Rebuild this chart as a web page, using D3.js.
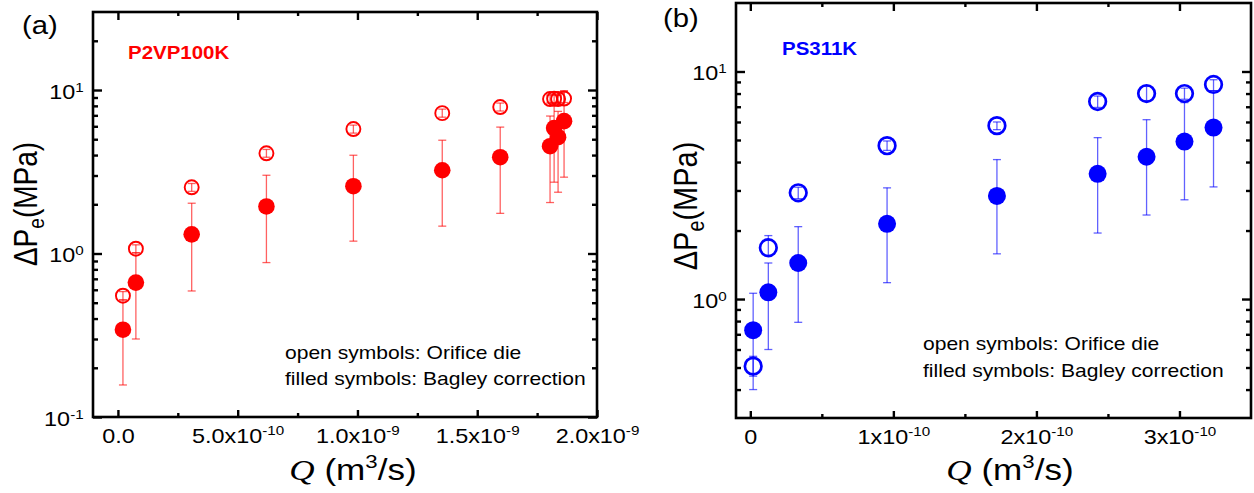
<!DOCTYPE html>
<html>
<head>
<meta charset="utf-8">
<script src="https://cdn.jsdelivr.net/npm/d3@7"></script>
<style>
  body { margin: 0; background: #fff; }
  svg { display: block; }
</style>
</head>
<body>
<svg id="fig" width="1254" height="493"></svg>
<script>
// ---------- (a) P2VP100K ----------
const flowP2VP      = [2.1e-11, 7.5e-11, 3.08e-10, 6.2e-10, 9.83e-10, 1.354e-9, 1.596e-9, 1.804e-9, 1.821e-9, 1.8375e-9, 1.8625e-9];
const orificeP2VP   = [0.552, 1.07, 2.54, 4.10, 5.77, 7.22, 7.87, 8.81, 8.85, 8.81, 8.87];
const orificeP2VPLo = [0.52, 1.01, 2.40, 3.88, 5.45, 6.82, 7.44, 8.32, 8.36, 8.32, 8.38];
const orificeP2VPHi = [0.585, 1.13, 2.68, 4.33, 6.10, 7.64, 8.32, 9.32, 9.36, 9.32, 9.86];
const bagleyP2VP    = [0.342, 0.664, 1.31, 1.94, 2.58, 3.23, 3.88, 4.53, 5.85, 5.15, 6.45];
const bagleyP2VPLo  = [0.157, 0.30, 0.59, 0.88, 1.19, 1.47, 1.76, 2.05, 2.73, 2.37, 2.93];
const bagleyP2VPHi  = [0.52, 1.01, 2.03, 3.01, 3.99, 4.93, 5.93, 6.93, 8.30, 7.40, 9.86];

const xTicksP2VP   = [0, 5e-10, 1e-9, 1.5e-9, 2e-9];
const xMantP2VP    = ["0.0", "5.0x10", "1.0x10", "1.5x10", "2.0x10"];
const xExpP2VP     = ["", "-10", "-9", "-9", "-9"];
const xMinorP2VP   = [2.5e-10, 7.5e-10, 1.25e-9, 1.75e-9];
const yTicksP2VP   = [0.1, 1, 10];
const yExpP2VP     = ["-1", "0", "1"];
const yMinorP2VP   = [0.2, 0.3, 0.4, 0.5, 0.6, 0.7, 0.8, 0.9, 2, 3, 4, 5, 6, 7, 8, 9, 20];

// ---------- (b) PS311K ----------
const flowPS      = [2e-12, 1.26e-11, 3.35e-11, 9.56e-11, 1.724e-10, 2.428e-10, 2.77e-10, 3.035e-10, 3.238e-10];
const orificePS   = [0.507, 1.68, 2.93, 4.72, 5.78, 7.38, 8.0, 8.0, 8.77];
const orificePSLo = [0.458, 1.55, 2.76, 4.50, 5.55, 6.95, 7.45, 7.55, 8.24];
const orificePSHi = [0.56, 1.90, 3.10, 4.95, 6.00, 7.80, 8.60, 8.45, 9.20];
const bagleyPS    = [0.73, 1.07, 1.44, 2.14, 2.84, 3.55, 4.22, 4.92, 5.67];
const bagleyPSLo  = [0.40, 0.60, 0.79, 1.18, 1.58, 1.95, 2.34, 2.73, 3.11];
const bagleyPSHi  = [1.06, 1.44, 2.08, 3.08, 4.10, 5.12, 6.14, 7.30, 8.24];

const xTicksPS   = [0, 1e-10, 2e-10, 3e-10];
const xMantPS    = ["0", "1x10", "2x10", "3x10"];
const xExpPS     = ["", "-10", "-10", "-10"];
const xMinorPS   = [5e-11, 1.5e-10, 2.5e-10];
const yTicksPS   = [1, 10];
const yExpPS     = ["0", "1"];
const yMinorPS   = [0.4, 0.5, 0.6, 0.7, 0.8, 0.9, 2, 3, 4, 5, 6, 7, 8, 9];

const SANS = '"Liberation Sans", Arial, sans-serif';
const SERIF = '"Liberation Serif", "Times New Roman", serif';
const SX = 1.17;   // text is set slightly wide

const svg = d3.select("#fig");

function drawPanel(o) {
  const g = svg.append("g");
  const x = d3.scaleLinear().domain(o.xDomain).range([o.left, o.right]);
  const y = d3.scaleLog().domain(o.yDomain).range([o.bottom, o.top]);

  // tick marks on all four sides, pointing inward
  const styleTicks = sel => {
    sel.select(".domain").remove();
    sel.selectAll("line").attr("stroke", "#000").attr("stroke-width", 2.4);
  };
  const noLab = () => "";
  const sides = [
    [d3.axisBottom, x, `translate(0,${o.bottom})`, o.xTicks, o.xMinor, 7, 4],
    [d3.axisTop,    x, `translate(0,${o.top})`,    o.xTicks, o.xMinor, 8, 4],
    [d3.axisLeft,   y, `translate(${o.left},0)`,   o.yTicks, o.yMinor, 9, 5],
    [d3.axisRight,  y, `translate(${o.right},0)`,  o.yTicks, o.yMinor, 9, 5]
  ];
  sides.forEach(([axis, sc, tr, major, minor, lenMaj, lenMin]) => {
    g.append("g").attr("transform", tr)
      .call(axis(sc).tickValues(major).tickSize(-lenMaj).tickFormat(noLab)).call(styleTicks);
    g.append("g").attr("transform", tr)
      .call(axis(sc).tickValues(minor).tickSize(-lenMin).tickFormat(noLab)).call(styleTicks);
  });

  // frame
  g.append("rect")
    .attr("x", o.left).attr("y", o.top)
    .attr("width", o.right - o.left).attr("height", o.bottom - o.top)
    .attr("fill", "none").attr("stroke", "#000").attr("stroke-width", 2.6);

  // x tick labels (mantissa + exponent)
  const xl = g.append("g").attr("transform", `translate(0,${o.bottom})`)
    .call(d3.axisBottom(x).tickValues(o.xTicks).tickSize(0).tickFormat((d, i) => o.xMant[i]));
  xl.select(".domain").remove();
  xl.selectAll(".tick text")
    .attr("dy", null).attr("y", 26)
    .attr("font-size", 20).attr("font-family", SANS).attr("fill", "#000")
    .attr("transform", `scale(${SX},1)`)
    .each(function (d, i) {
      if (o.xExp[i]) d3.select(this).append("tspan").attr("dy", -8).attr("font-size", 13).text(o.xExp[i]);
    });

  // y tick labels (powers of ten)
  const yl = g.append("g").attr("transform", `translate(${o.left},0)`)
    .call(d3.axisLeft(y).tickValues(o.yTicks).tickSize(0).tickPadding(8).tickFormat(() => "10"));
  yl.select(".domain").remove();
  yl.selectAll(".tick text")
    .attr("dy", "0.4em")
    .attr("font-size", 20).attr("font-family", SANS).attr("fill", "#000")
    .attr("transform", `scale(${SX},1)`)
    .each(function (d, i) {
      d3.select(this).append("tspan").attr("dy", -7).attr("font-size", 13).text(o.yExp[i]);
    });

  // data
  const rows = (q, v, lo, hi) => q.map((d, i) => ({ q: d, v: v[i], lo: lo[i], hi: hi[i] }));
  const filled = rows(o.q, o.bagley, o.bagleyLo, o.bagleyHi);
  const open = rows(o.q, o.orifice, o.orificeLo, o.orificeHi);

  const errs = g.append("g")
    .attr("stroke", o.color).attr("stroke-opacity", 0.62).attr("stroke-width", 1.3).attr("fill", "none");
  const cap = 4;
  [filled, open].forEach(set => {
    const eg = errs.append("g").selectAll("g").data(set).join("g");
    eg.append("line")
      .attr("x1", d => x(d.q)).attr("x2", d => x(d.q))
      .attr("y1", d => y(d.lo)).attr("y2", d => y(d.hi));
    eg.append("line")
      .attr("x1", d => x(d.q) - cap).attr("x2", d => x(d.q) + cap)
      .attr("y1", d => y(d.lo)).attr("y2", d => y(d.lo));
    eg.append("line")
      .attr("x1", d => x(d.q) - cap).attr("x2", d => x(d.q) + cap)
      .attr("y1", d => y(d.hi)).attr("y2", d => y(d.hi));
  });

  g.append("g").selectAll("circle").data(filled).join("circle")
    .attr("cx", d => x(d.q)).attr("cy", d => y(d.v))
    .attr("r", o.rFilled).attr("fill", o.color);

  g.append("g").selectAll("circle").data(open).join("circle")
    .attr("cx", d => x(d.q)).attr("cy", d => y(d.v))
    .attr("r", o.rOpen).attr("fill", "none")
    .attr("stroke", o.color).attr("stroke-width", o.openStroke);

  // axis titles
  const yt = g.append("text")
    .attr("transform", `translate(${o.yTitleX},${o.yTitleY}) scale(${SX},1) rotate(-90)`)
    .attr("text-anchor", "middle").attr("font-family", SANS).attr("font-size", o.yTitleSize).attr("fill", "#000");
  yt.append("tspan").text("ΔP");
  yt.append("tspan").attr("font-size", o.yTitleSize * 0.68).attr("dy", 6).text("e");
  yt.append("tspan").attr("dy", -6).text("(MPa)");

  const xt = g.append("text")
    .attr("transform", `translate(${o.xTitleX},${o.xTitleY}) scale(${SX},1)`)
    .attr("text-anchor", "middle").attr("font-family", SANS).attr("font-size", 30).attr("fill", "#000");
  xt.append("tspan").attr("font-family", SERIF).attr("font-style", "italic").text("Q");
  xt.append("tspan").text(" (m");
  xt.append("tspan").attr("font-size", 19).attr("dy", -12).text("3");
  xt.append("tspan").attr("dy", 12).text("/s)");

  // panel letter, sample name, symbol key
  const txt = (tx, ty, s, size, extra) => {
    const t = g.append("text")
      .attr("transform", `translate(${tx},${ty}) scale(${SX},1)`)
      .attr("font-family", SANS).attr("font-size", size).attr("fill", "#000").text(s);
    if (extra) extra(t);
    return t;
  };
  txt(o.letterX, o.letterY, o.letter, 25);
  txt(o.nameX, o.nameY, o.name, 17.5, t => t.attr("font-weight", "bold").attr("fill", o.color));
  txt(o.keyX, o.keyY1, "open symbols: Orifice die", 18);
  txt(o.keyX, o.keyY2, "filled symbols: Bagley correction", 18);
}

drawPanel({
  left: 93, right: 597, top: 12, bottom: 417,
  xDomain: [-1.04e-10, 2e-9], yDomain: [0.1, 30],
  xTicks: xTicksP2VP, xMant: xMantP2VP, xExp: xExpP2VP, xMinor: xMinorP2VP,
  yTicks: yTicksP2VP, yExp: yExpP2VP, yMinor: yMinorP2VP,
  q: flowP2VP,
  orifice: orificeP2VP, orificeLo: orificeP2VPLo, orificeHi: orificeP2VPHi,
  bagley: bagleyP2VP, bagleyLo: bagleyP2VPLo, bagleyHi: bagleyP2VPHi,
  color: "#ff0000", rFilled: 8.3, rOpen: 7, openStroke: 1.9,
  yTitleX: 37, yTitleY: 204, yTitleSize: 28,
  xTitleX: 353, xTitleY: 480,
  letter: "(a)", letterX: 22, letterY: 34,
  name: "P2VP100K", nameX: 128, nameY: 59,
  keyX: 285, keyY1: 359, keyY2: 385
});

drawPanel({
  left: 736, right: 1251, top: 3, bottom: 418,
  xDomain: [-1e-11, 3.5e-10], yDomain: [0.3, 20],
  xTicks: xTicksPS, xMant: xMantPS, xExp: xExpPS, xMinor: xMinorPS,
  yTicks: yTicksPS, yExp: yExpPS, yMinor: yMinorPS,
  q: flowPS,
  orifice: orificePS, orificeLo: orificePSLo, orificeHi: orificePSHi,
  bagley: bagleyPS, bagleyLo: bagleyPSLo, bagleyHi: bagleyPSHi,
  color: "#0000ff", rFilled: 9, rOpen: 8.3, openStroke: 2.7,
  yTitleX: 697, yTitleY: 206, yTitleSize: 29,
  xTitleX: 1010, xTitleY: 480,
  letter: "(b)", letterX: 663, letterY: 27,
  name: "PS311K", nameX: 782, nameY: 55,
  keyX: 923, keyY1: 350, keyY2: 377
});
</script>
</body>
</html>
